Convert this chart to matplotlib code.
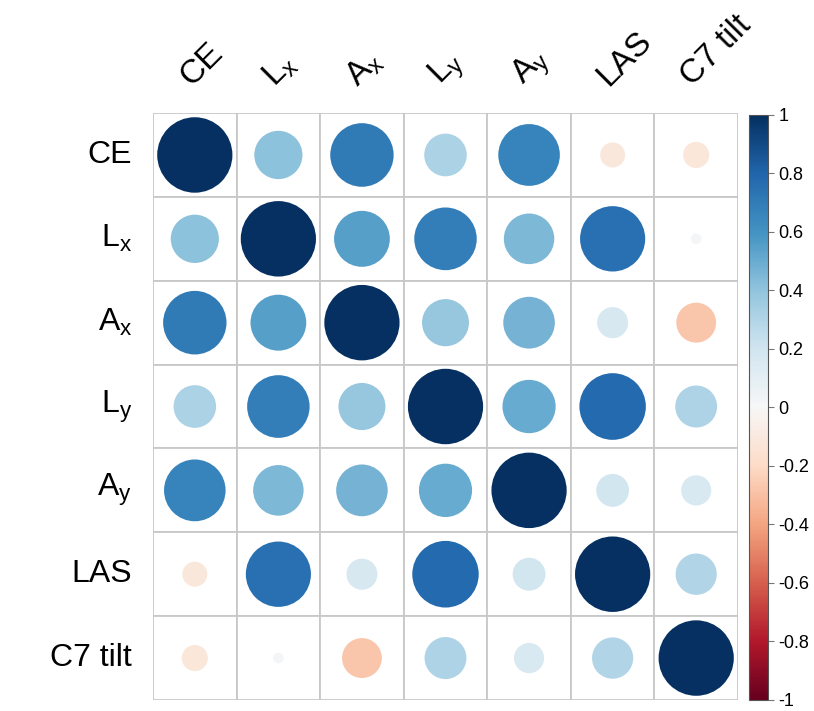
import matplotlib.pyplot as plt
import numpy as np
from matplotlib.patches import Circle, Rectangle
import matplotlib as mpl

plt.rcParams['font.family'] = ['Liberation Sans', 'DejaVu Sans']
plt.rcParams['mathtext.fontset'] = 'custom'
plt.rcParams['mathtext.rm'] = 'Liberation Sans'
plt.rcParams['mathtext.it'] = 'Liberation Sans'

# variables
names = ['CE', r'L$_\mathregular{x}$', r'A$_\mathregular{x}$', r'L$_\mathregular{y}$',
         r'A$_\mathregular{y}$', 'LAS', 'C7 tilt']

# correlation matrix
corr = np.array([
    [1.00, 0.41, 0.71, 0.32, 0.67, -0.11, -0.12],
    [0.41, 1.00, 0.55, 0.69, 0.45, 0.75, 0.02],
    [0.71, 0.55, 1.00, 0.39, 0.47, 0.17, -0.28],
    [0.32, 0.69, 0.39, 1.00, 0.50, 0.78, 0.31],
    [0.67, 0.45, 0.47, 0.50, 1.00, 0.19, 0.16],
    [-0.11, 0.75, 0.17, 0.78, 0.19, 1.00, 0.30],
    [-0.12, 0.02, -0.28, 0.31, 0.16, 0.30, 1.00],
])

n = len(names)
cmap = plt.get_cmap('RdBu')
norm = mpl.colors.Normalize(-1, 1)

fig = plt.figure(figsize=(8.14, 7.11), dpi=100)
ax = fig.add_axes([0.188, 0.0155, 0.7186, 0.8255])
ax.set_xlim(-0.5, n - 0.5)
ax.set_ylim(n - 0.5, -0.5)
ax.axis('off')

# grid cells + circles (area ~ |r|, like corrplot)
for i in range(n):
    for j in range(n):
        ax.add_patch(Rectangle((j - 0.5, i - 0.5), 1, 1, facecolor='white',
                               edgecolor='#c8c8c8', lw=1.3))
        r = corr[i, j]
        ax.add_patch(Circle((j, i), 0.45 * np.sqrt(abs(r)),
                            facecolor=cmap(norm(r)), edgecolor='none'))

# row labels
for i in range(n):
    ax.text(-0.75, i, names[i], ha='right', va='center', fontsize=23)

# column labels
for j in range(n):
    ax.text(j - 0.12, -0.88, names[j], ha='left', va='center', fontsize=24,
            rotation=45, rotation_mode='anchor')

# colour bar
cax = fig.add_axes([0.920, 0.0155, 0.0233, 0.823])
sm = mpl.cm.ScalarMappable(norm=norm, cmap=cmap)
cb = fig.colorbar(sm, cax=cax, ticks=np.linspace(-1, 1, 11))
cb.ax.set_yticklabels(['-1', '-0.8', '-0.6', '-0.4', '-0.2', '0',
                       '0.2', '0.4', '0.6', '0.8', '1'])
cb.ax.tick_params(labelsize=13, length=4, color='#777777')
cb.outline.set_edgecolor('#555555')
cb.outline.set_linewidth(0.8)

plt.savefig('out.png', dpi=100)
